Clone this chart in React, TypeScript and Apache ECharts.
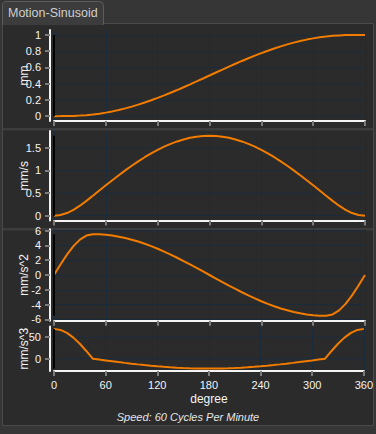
import React, { useEffect, useRef } from "react";
import * as echarts from "echarts";

const degrees = [0, 7.5, 15, 22.5, 30, 37.5, 45, 52.5, 60, 67.5, 75, 82.5, 90, 97.5, 105, 112.5, 120, 127.5, 135, 142.5, 150, 157.5, 165, 172.5, 180, 187.5, 195, 202.5, 210, 217.5, 225, 232.5, 240, 247.5, 255, 262.5, 270, 277.5, 285, 292.5, 300, 307.5, 315, 322.5, 330, 337.5, 345, 352.5, 360];
const displacement = [0, 0.0001, 0.0008, 0.0027, 0.0063, 0.012, 0.02, 0.0304, 0.0431, 0.0582, 0.0756, 0.0953, 0.1172, 0.1411, 0.167, 0.1947, 0.2242, 0.2551, 0.2875, 0.321, 0.3556, 0.391, 0.427, 0.4634, 0.5, 0.5366, 0.573, 0.609, 0.6444, 0.679, 0.7125, 0.7449, 0.7758, 0.8053, 0.833, 0.8589, 0.8828, 0.9047, 0.9244, 0.9418, 0.9569, 0.9696, 0.98, 0.988, 0.9937, 0.9973, 0.9992, 0.9999, 1];
const velocity = [0, 0.015, 0.059, 0.129, 0.22, 0.326, 0.44, 0.555, 0.669, 0.781, 0.891, 0.998, 1.1, 1.197, 1.288, 1.373, 1.451, 1.521, 1.583, 1.636, 1.68, 1.715, 1.74, 1.755, 1.76, 1.755, 1.74, 1.715, 1.68, 1.636, 1.583, 1.521, 1.451, 1.373, 1.288, 1.197, 1.1, 0.998, 0.891, 0.781, 0.669, 0.555, 0.44, 0.326, 0.22, 0.129, 0.059, 0.015, 0];
const acceleration = [0, 1.431, 2.764, 3.909, 4.787, 5.34, 5.528, 5.507, 5.444, 5.34, 5.195, 5.01, 4.787, 4.529, 4.234, 3.909, 3.553, 3.171, 2.764, 2.336, 1.891, 1.431, 0.96, 0.482, 0, -0.482, -0.96, -1.431, -1.891, -2.336, -2.764, -3.171, -3.553, -3.909, -4.234, -4.529, -4.787, -5.01, -5.195, -5.34, -5.444, -5.507, -5.528, -5.34, -4.787, -3.909, -2.764, -1.431, 0];
const jerk = [69.47, 67.1, 60.16, 49.12, 34.74, 17.98, 0, -2.02, -4.02, -5.99, -7.92, -9.79, -11.58, -13.28, -14.89, -16.38, -17.74, -18.97, -20.06, -20.99, -21.76, -22.37, -22.81, -23.07, -23.16, -23.07, -22.81, -22.37, -21.76, -20.99, -20.06, -18.97, -17.74, -16.38, -14.89, -13.28, -11.58, -9.79, -7.92, -5.99, -4.02, -2.02, 0, 17.98, 34.74, 49.12, 60.16, 67.1, 69.47];

const dispTicks = [0, 0.2, 0.4, 0.6, 0.8, 1];
const velTicks = [0, 0.5, 1, 1.5];
const accTicks = [-6, -4, -2, 0, 2, 4, 6];
const jerkTicks = [0, 50];
const axisNames = ["mm", "mm/s", "mm/s^2", "mm/s^3"];
const xAxisName = "degree";
const tabTitle = "Motion-Sinusoid";
const footer = "Speed: 60 Cycles Per Minute";

const FONT = "'Liberation Sans', Arial, sans-serif";
const LINE = "#f27c00";
const WHITE = "#f4f4f4";
const GRIDC = "#1a2b3b";
const TICKC = "#7c7c7c";

export default function App() {
  const ref = useRef<HTMLDivElement>(null);
  useEffect(() => {
    if (!ref.current) return;
    const chart = echarts.init(ref.current, null, { renderer: "svg" });
    const panels = [
      { vals: displacement, ticks: dispTicks, top: 30, height: 91 },
      { vals: velocity, ticks: velTicks, top: 131, height: 89.5 },
      { vals: acceleration, ticks: accTicks, top: 229.3, height: 91.4 },
      { vals: jerk, ticks: jerkTicks, top: 326.5, height: 44.5 },
    ];
    const grids: any[] = [];
    const xAxes: any[] = [];
    const yAxes: any[] = [];
    const series: any[] = [];
    panels.forEach((p, i) => {
      const mn = Math.min(...p.vals);
      const mx = Math.max(...p.vals);
      const pad = (mx - mn) * 0.06;
      const last = i === panels.length - 1;
      grids.push({ left: 54, right: 11, top: p.top, height: p.height });
      xAxes.push({
        type: "value",
        gridIndex: i,
        min: 0,
        max: 360,
        interval: 60,
        axisLine: { show: true, onZero: false, lineStyle: { color: WHITE, width: 2 } },
        axisTick: { show: true, length: 5, lineStyle: { color: TICKC, width: 2 } },
        axisLabel: {
          show: last,
          color: WHITE,
          fontSize: 11,
          fontFamily: FONT,
          margin: 8,
        },
        splitLine: { show: true, lineStyle: { color: GRIDC, width: 1 } },
        name: last ? xAxisName : "",
        nameLocation: "middle",
        nameGap: 22,
        nameMoveOverlap: false,
        nameTextStyle: { color: WHITE, fontSize: 12, fontFamily: FONT },
      });
      yAxes.push({
        type: "value",
        gridIndex: i,
        min: mn - pad,
        max: mx + pad,
        offset: 4,
        axisLine: { show: true, onZero: false, lineStyle: { color: WHITE, width: 2 } },
        axisTick: { show: true, length: 5, customValues: p.ticks, lineStyle: { color: TICKC, width: 2 } },
        axisLabel: {
          show: true,
          customValues: p.ticks,
          formatter: (v: number) => String(v),
          color: WHITE,
          fontSize: 11,
          fontFamily: FONT,
          margin: 9,
        },
        splitLine: { show: true, lineStyle: { color: GRIDC, width: 1 } },
        name: axisNames[i],
        nameLocation: "middle",
        nameRotate: 90,
        nameGap: 20,
        nameMoveOverlap: false,
        nameTextStyle: { color: WHITE, fontSize: 12, fontFamily: FONT },
      });
      series.push({
        type: "line",
        xAxisIndex: i,
        yAxisIndex: i,
        data: degrees.map((d, k) => [d, p.vals[k]]),
        showSymbol: false,
        smooth: false,
        lineStyle: { color: LINE, width: 2 },
        itemStyle: { color: LINE },
        markLine: {
          silent: true,
          symbol: "none",
          label: { show: false },
          lineStyle: { color: "#000000", width: 2, type: "solid" },
          data: [[{ coord: [0, mn] }, { coord: [0, mx] }]],
        },
        z: 3,
      });
    });

    chart.setOption({
      animation: false,
      backgroundColor: "#363636",
      grid: grids,
      xAxis: xAxes,
      yAxis: yAxes,
      series,
      graphic: [
        {
          type: "rect",
          z: -10,
          shape: { x: 2.5, y: 23.5, width: 371, height: 402 },
          style: { fill: "#2b2b2b", stroke: "#4a4a4a", lineWidth: 1 },
          silent: true,
        },
        {
          type: "rect",
          z: -9,
          shape: { x: 3, y: 128, width: 370, height: 2.5 },
          style: { fill: "#3d3d3d" },
          silent: true,
        },
        {
          type: "rect",
          z: -9,
          shape: { x: 3, y: 228, width: 370, height: 2.5 },
          style: { fill: "#3d3d3d" },
          silent: true,
        },
        {
          type: "rect",
          z: -8,
          shape: { x: 2.5, y: 1.5, width: 101, height: 23, r: [4, 4, 0, 0] },
          style: { fill: "#3c3c3c", stroke: "#5c5c5c", lineWidth: 1 },
          silent: true,
        },
        {
          type: "rect",
          z: -7,
          shape: { x: 3, y: 23, width: 100, height: 2 },
          style: { fill: "#3c3c3c" },
          silent: true,
        },
        {
          type: "text",
          z: 10,
          x: 8,
          y: 13,
          style: {
            text: tabTitle,
            fill: "#cfcfcf",
            font: `12.5px ${FONT}`,
            textVerticalAlign: "middle",
            verticalAlign: "middle",
          },
        },
        {
          type: "text",
          z: 10,
          x: 188,
          y: 417,
          style: {
            text: footer,
            fill: "#e6e6e6",
            font: `italic 11px ${FONT}`,
            align: "center",
            textAlign: "center",
            verticalAlign: "middle",
            textVerticalAlign: "middle",
          },
        },
      ],
    });
    return () => chart.dispose();
  }, []);
  return (
    <div
      ref={ref}
      style={{ position: "fixed", left: 0, top: 0, width: 376, height: 434 }}
    />
  );
}
